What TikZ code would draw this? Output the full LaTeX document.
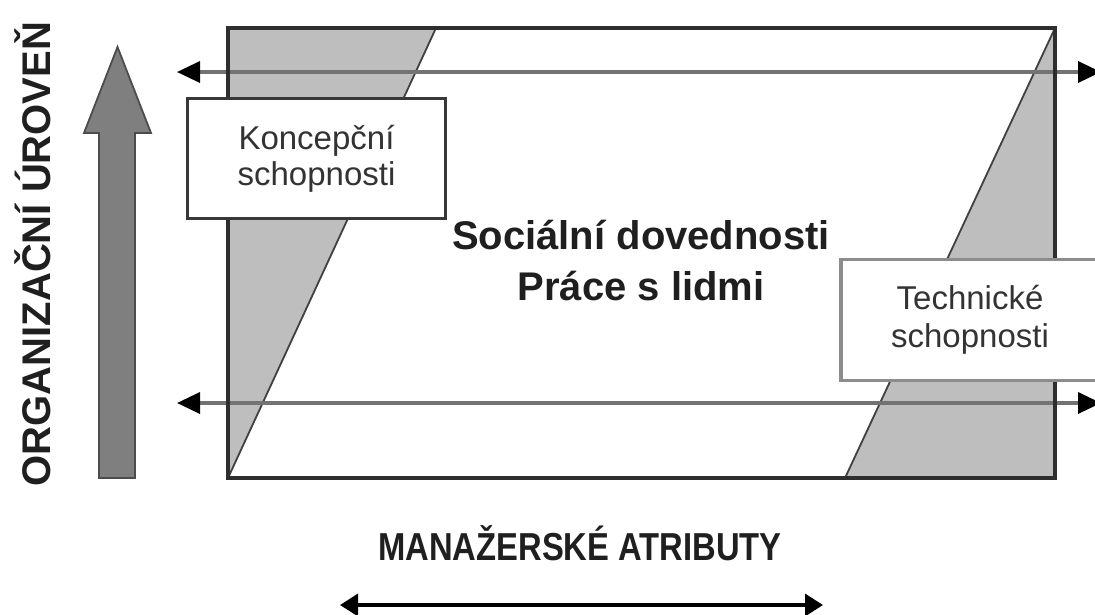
\documentclass[tikz,border=0pt]{standalone}
\usepackage{fontspec}
\setmainfont{Liberation Sans}
\usetikzlibrary{arrows.meta}
\definecolor{lightg}{HTML}{BEBEBE}
\definecolor{darkg}{HTML}{7F7F7F}
\begin{document}
\begin{tikzpicture}[x=1pt,y=-1pt,
  shadearea/.style={fill=lightg, draw=none},
  diag/.style={line width=1.8pt, draw=black!75},
  frame/.style={line width=3.2pt, draw=black!82},
  harrow/.style={line width=3.5pt, draw=black!55,
     {Triangle[length=23pt,width=21pt,color=black]}-{Triangle[length=23pt,width=21pt,color=black]}},
  barrow/.style={line width=3.5pt, draw=black,
     {Triangle[length=18pt,width=22pt]}-{Triangle[length=18pt,width=22pt]}},
  bigarrow/.style={fill=darkg, draw=black!70, line width=1.8pt},
  boxK/.style={draw=black!78, fill=white, line width=3.5pt, align=center,
     minimum width=258pt, minimum height=120pt, inner sep=0pt, text=black!80,
     font=\fontsize{33}{36}\selectfont},
  boxT/.style={draw=black!45, fill=white, line width=3.5pt, align=center,
     minimum width=258pt, minimum height=121pt, inner sep=0pt, text=black!80,
     font=\fontsize{33}{38}\selectfont},
  bigtext/.style={font=\fontsize{40}{50}\selectfont\bfseries, text=black!88, inner sep=0pt, anchor=base},
]
\useasboundingbox (0,0) rectangle (1095,614);

% corners of the main frame
\coordinate (TL) at (228,28);
\coordinate (TR) at (1055,28);
\coordinate (BR) at (1055,478);
\coordinate (BL) at (228,478);
\coordinate (LT) at (436,28);
\coordinate (RB) at (845,478);

% shaded areas
\fill[shadearea] (TL) -- (LT) -- (BL) -- cycle;
\fill[shadearea] (TR) -- (BR) -- (RB) -- cycle;
\draw[diag] (LT) -- (BL);
\draw[diag] (TR) -- (RB);

% horizontal arrows
\coordinate (a1l) at (177,72);
\coordinate (a1r) at (1101,72);
\coordinate (a2l) at (177,403);
\coordinate (a2r) at (1101,403);
\draw[harrow] (a1l) -- (a1r);
\draw[harrow] (a2l) -- (a2r);

% frame
\draw[frame] (TL) -- (TR) -- (BR) -- (BL) -- cycle;

% boxes
\node[boxK] (kon) at (316.5,158.5) {Koncepční\\schopnosti};
\node[boxT] (tech) at (970,320) {Technické\\schopnosti};

% centre text
\node[bigtext] (soc1) at (641,249) {Sociální dovednosti};
\node[bigtext] (soc2) at (641,300) {Práce s lidmi};

% big vertical arrow
\draw[bigarrow] (99,478) -- (99,133) -- (84,133) -- (117.5,47) -- (151,133) -- (135,133) -- (135,478) -- cycle;

% vertical label
\node[bigtext, rotate=90] (org) at (50,254) {ORGANIZAČNÍ ÚROVEŇ};

% bottom label and arrow
\node[bigtext, font=\fontsize{39}{46}\selectfont\bfseries] (man) at (580,560) {\scalebox{0.84}[1]{MANAŽERSKÉ ATRIBUTY}};
\coordinate (b1) at (340,605);
\coordinate (b2) at (823,605);
\draw[barrow] (b1) -- (b2);
\end{tikzpicture}
\end{document}
